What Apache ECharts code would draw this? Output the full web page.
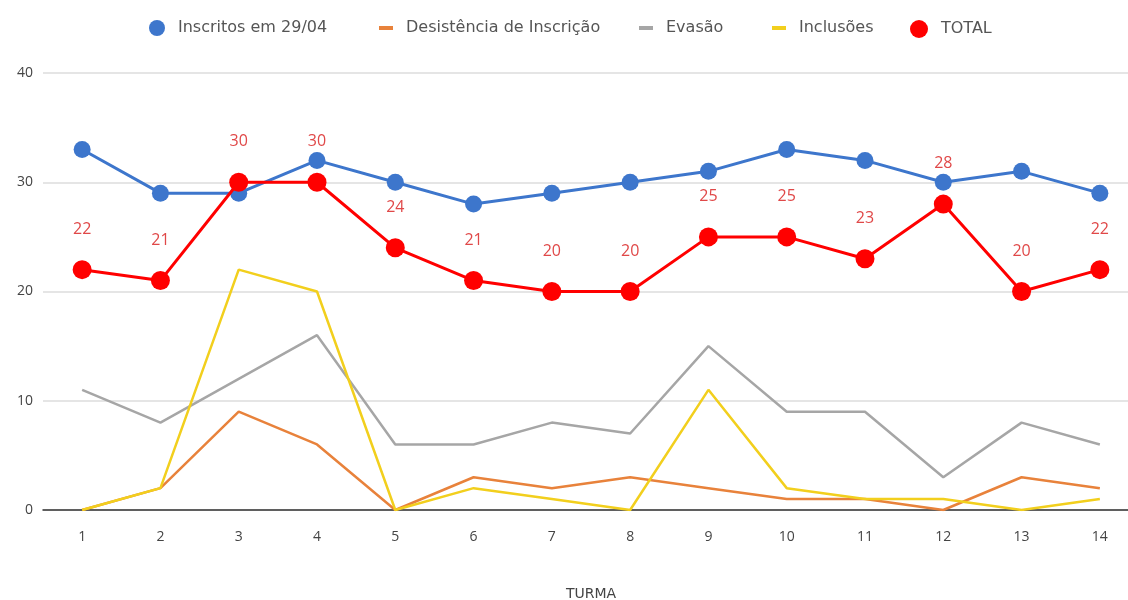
<!DOCTYPE html>
<html><head><meta charset="utf-8">
<script src="https://cdn.jsdelivr.net/npm/echarts@6/dist/echarts.min.js"></script>
<style>html,body{margin:0;padding:0;background:#fff}#c{width:1128px;height:600px}</style>
</head><body><div id="c"></div>
<script>
const categories = ['1','2','3','4','5','6','7','8','9','10','11','12','13','14'];
const inscritos = [33, 29, 29, 32, 30, 28, 29, 30, 31, 33, 32, 30, 31, 29];
const desistencia = [0, 2, 9, 6, 0, 3, 2, 3, 2, 1, 1, 0, 3, 2];
const evasao = [11, 8, 12, 16, 6, 6, 8, 7, 15, 9, 9, 3, 8, 6];
const inclusoes = [0, 2, 22, 20, 0, 2, 1, 0, 11, 2, 1, 1, 0, 1];
const total = [22, 21, 30, 30, 24, 21, 20, 20, 25, 25, 23, 28, 20, 22];

const C = {blue:'#3d76cc', orange:'#e8823b', gray:'#a6a6a6', yellow:'#f2cf1d', red:'#ff0000'};
const font = 'Open Sans, Noto Sans, sans-serif';
const wideFont = 'DejaVu Sans, sans-serif';
const legendText = {color:'#555', fontSize:16, fontFamily:wideFont, padding:[0,0,0,8]};

function leg(name, icon, left, w, h) {
  return {data:[{name:name, icon:icon}], left:left, top:20, padding:0,
          itemWidth:w, itemHeight:h, textStyle:legendText};
}

const chart = echarts.init(document.getElementById('c'));
chart.setOption({
  animation:false,
  backgroundColor:'#fff',
  legend:[
    leg('Inscritos em 29/04', 'circle', 149, 16, 16),
    leg('Desistência de Inscrição', 'rect', 379, 14, 4),
    leg('Evasão', 'rect', 639, 14, 4),
    leg('Inclusões', 'rect', 772, 14, 4),
    leg('TOTAL', 'circle', 910, 18, 18)
  ],
  grid:{left:43, top:73, width:1096, bottom:90, containLabel:false, outerBoundsMode:'none'},
  xAxis:{
    type:'category', data:categories, boundaryGap:true,
    name:'TURMA', nameLocation:'middle', nameGap:77,
    nameTextStyle:{color:'#444', fontSize:14, fontFamily:wideFont},
    axisLine:{lineStyle:{color:'#333', width:1.5}},
    axisTick:{show:false},
    axisLabel:{color:'#444', fontSize:14, margin:20, fontFamily:font}
  },
  yAxis:{
    type:'value', min:0, max:40, interval:10,
    axisLine:{show:false}, axisTick:{show:false},
    axisLabel:{color:'#444', fontSize:14, margin:10, fontFamily:font},
    splitLine:{lineStyle:{color:'#dcdcdc', width:1.5}}
  },
  series:[
    {name:'Inscritos em 29/04', type:'line', data:inscritos, color:C.blue, symbol:'circle', symbolSize:17,
     lineStyle:{width:3}, z:3},
    {name:'Desistência de Inscrição', type:'line', data:desistencia, color:C.orange, symbol:'none', lineStyle:{width:2.5}, z:2},
    {name:'Evasão', type:'line', data:evasao, color:C.gray, symbol:'none', lineStyle:{width:2.5}, z:2},
    {name:'Inclusões', type:'line', data:inclusoes, color:C.yellow, symbol:'none', lineStyle:{width:2.5}, z:2},
    {name:'TOTAL', type:'line', data:total, color:C.red, symbol:'circle', symbolSize:19,
     lineStyle:{width:3}, z:4,
     label:{show:true, position:'top', distance:23, color:'#e04848', fontSize:16, fontFamily:font}}
  ]
});
</script></body></html>
